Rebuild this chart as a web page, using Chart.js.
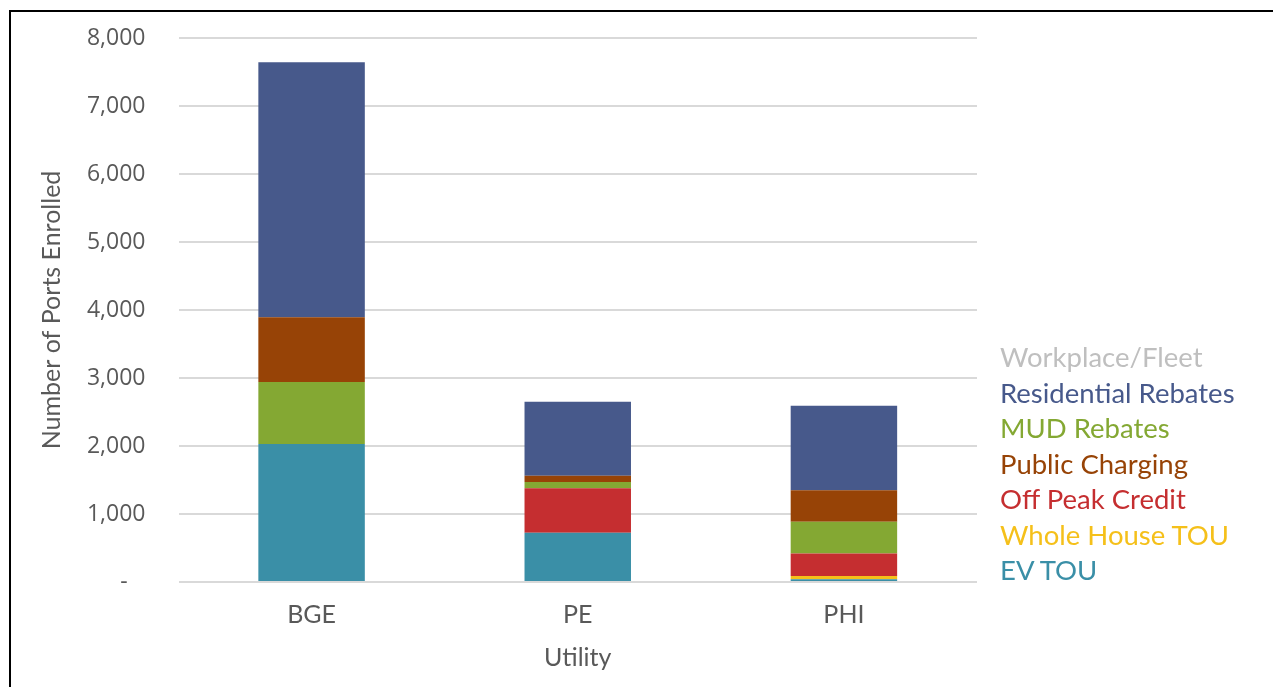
<!DOCTYPE html>
<html>
<head>
<meta charset="utf-8">
<script src="https://cdn.jsdelivr.net/npm/chart.js@4"></script>
<style>
  html, body { margin: 0; padding: 0; background: #fff; }
  #wrap { position: relative; width: 1273px; height: 687px; overflow: hidden; }
  #chart-01 { display: block; }
  #frame { position: absolute; left: 9px; top: 10px; width: 1300px; height: 700px;
           border-left: 2px solid #000; border-top: 2px solid #000; pointer-events: none; }
  #legend { position: absolute; left: 1000px; top: 339px; font-family: Lato, sans-serif;
            font-size: 27.5px; line-height: 35.5px; white-space: nowrap; }
</style>
</head>
<body>
<div id="wrap">
  <canvas id="chart-01" width="1273" height="687"></canvas>
  <div id="frame"></div>
  <div id="legend"></div>
</div>
<script>
// ==================data=================
const utilities = ["BGE", "PE", "PHI"];

const evTou = [2030, 725, 40];
const wholeHouseTou = [0, 0, 50];
const offPeakCredit = [0, 653, 330];
const mudRebates = [910, 92, 465];
const publicCharging = [955, 93, 466];
const residentialRebates = [3750, 1088, 1240];
const workplaceFleet = [0, 0, 0];

const yTicks = [0, 1000, 2000, 3000, 4000, 5000, 6000, 7000, 8000];

// bottom to top, same as the stack
const series = [
  { label: "EV TOU", data: evTou, color: "#3a8fa7" },
  { label: "Whole House TOU", data: wholeHouseTou, color: "#f5c01a" },
  { label: "Off Peak Credit", data: offPeakCredit, color: "#c52e30" },
  { label: "MUD Rebates", data: mudRebates, color: "#84a833" },
  { label: "Public Charging", data: publicCharging, color: "#974306" },
  { label: "Residential Rebates", data: residentialRebates, color: "#47598b" },
  { label: "Workplace/Fleet", data: workplaceFleet, color: "#bfbfbf" },
];

// legend order as printed (text only)
const legendOrder = [
  "Workplace/Fleet",
  "Residential Rebates",
  "MUD Rebates",
  "Public Charging",
  "Off Peak Credit",
  "Whole House TOU",
  "EV TOU",
];

const legend = document.getElementById("legend");
legendOrder.forEach(function (name) {
  const s = series.find(function (d) { return d.label === name; });
  const row = document.createElement("div");
  row.textContent = s.label;
  row.style.color = s.color;
  legend.appendChild(row);
});

const ctx01 = document.getElementById("chart-01").getContext("2d");

new Chart(ctx01, {
  type: "bar",
  data: {
    labels: utilities,
    datasets: series.map(function (s) {
      return {
        label: s.label,
        data: s.data,
        backgroundColor: s.color,
        borderWidth: 0,
        barPercentage: 0.4,
        categoryPercentage: 1.0,
      };
    }),
  },
  options: {
    responsive: false,
    animation: false,
    layout: {
      padding: { left: 10, top: 20, right: 296, bottom: 0 },
    },
    plugins: {
      legend: { display: false },
      tooltip: { enabled: false },
    },
    scales: {
      x: {
        stacked: true,
        grid: { display: false, drawTicks: false },
        border: { display: false },
        ticks: {
          padding: 18,
          color: "#595959",
          font: { family: "Lato", size: 25 },
        },
        title: {
          display: true,
          text: "Utility",
          color: "#595959",
          font: { family: "Lato", size: 25 },
          padding: { top: 0, bottom: 14 },
        },
        afterFit: function (scale) {
          scale.height = 105;
        },
      },
      y: {
        stacked: true,
        min: 0,
        max: 8000,
        afterBuildTicks: function (scale) {
          scale.ticks = yTicks.map(function (v) { return { value: v }; });
        },
        grid: { color: "#d9d9d9", lineWidth: 2, drawTicks: false },
        border: { display: false },
        ticks: {
          padding: 33,
          color: "#595959",
          // small lineHeight: top of plot = half label height + tick padding
          font: { family: "Open Sans", size: 23, lineHeight: "10px" },
          callback: function (v) {
            // accounting style zero, dash sits left of the digits column
            return v === 0 ? "-   " : v.toLocaleString("en-US");
          },
        },
        title: {
          display: true,
          text: "Number of Ports Enrolled",
          color: "#595959",
          font: { family: "Lato", size: 25 },
          padding: { top: 27, bottom: 0 },
        },
        afterFit: function (scale) {
          scale.width = 168.5;
        },
      },
    },
  },
});
</script>
</body>
</html>
